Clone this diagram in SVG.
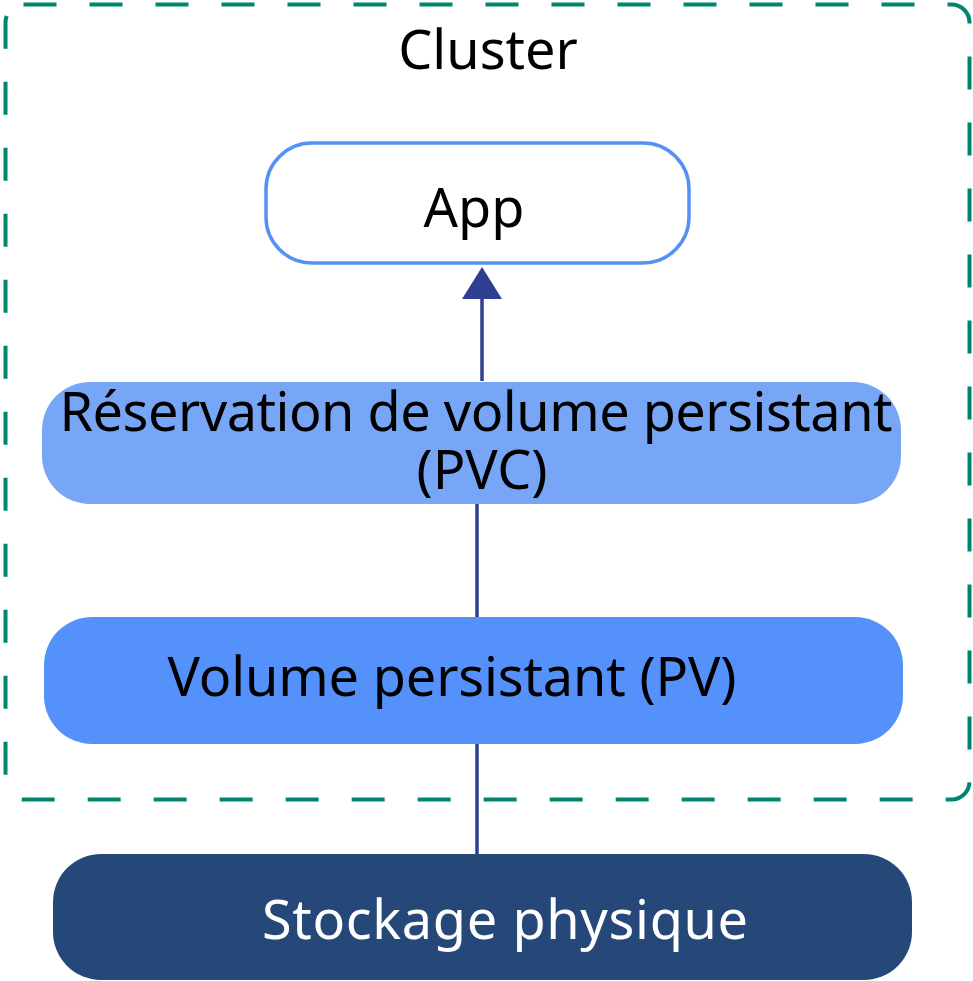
<svg xmlns="http://www.w3.org/2000/svg" width="973" height="981" viewBox="0 0 973 981">
  <style>
    text { font-family: "Noto Sans", "Open Sans", sans-serif; font-size: 54px; text-anchor: middle; fill: #000; }
    .conn { stroke: #2e3f8f; stroke-width: 3.5; fill: none; }
  </style>
  <rect width="973" height="981" fill="#fff"/>

  <g id="cluster">
    <rect x="5.5" y="4.5" width="964" height="795" rx="18" ry="18" fill="none" stroke="#00856f" stroke-width="4" stroke-dasharray="33 33"/>
    <text x="488" y="69">Cluster</text>
  </g>

  <g id="connectors">
    <line class="conn" x1="482" y1="381" x2="482" y2="299"/>
    <path d="M462,299 L482,267 L502,299 Z" fill="#2e3f8f"/>
    <line class="conn" x1="477" y1="503" x2="477" y2="618"/>
    <line class="conn" x1="477" y1="743" x2="477" y2="855"/>
  </g>

  <g id="app">
    <rect x="266" y="143" width="423" height="120" rx="46" ry="46" fill="#fff" stroke="#5591f5" stroke-width="3.5"/>
    <text x="474" y="227">App</text>
  </g>

  <g id="pvc">
    <rect x="42" y="382" width="859" height="122" rx="48" ry="48" fill="#78a6f6"/>
    <text><tspan x="476" y="431" textLength="833">Réservation de volume persistant</tspan><tspan x="482" y="489">(PVC)</tspan></text>
  </g>

  <g id="pv">
    <rect x="44" y="617" width="859" height="127" rx="48" ry="48" fill="#5591fb"/>
    <text x="452" y="696" textLength="569">Volume persistant (PV)</text>
  </g>

  <g id="stockage">
    <rect x="53" y="854" width="859" height="126" rx="48" ry="48" fill="#264879"/>
    <text x="505" y="939" textLength="486" style="fill:#fff">Stockage physique</text>
  </g>
</svg>
